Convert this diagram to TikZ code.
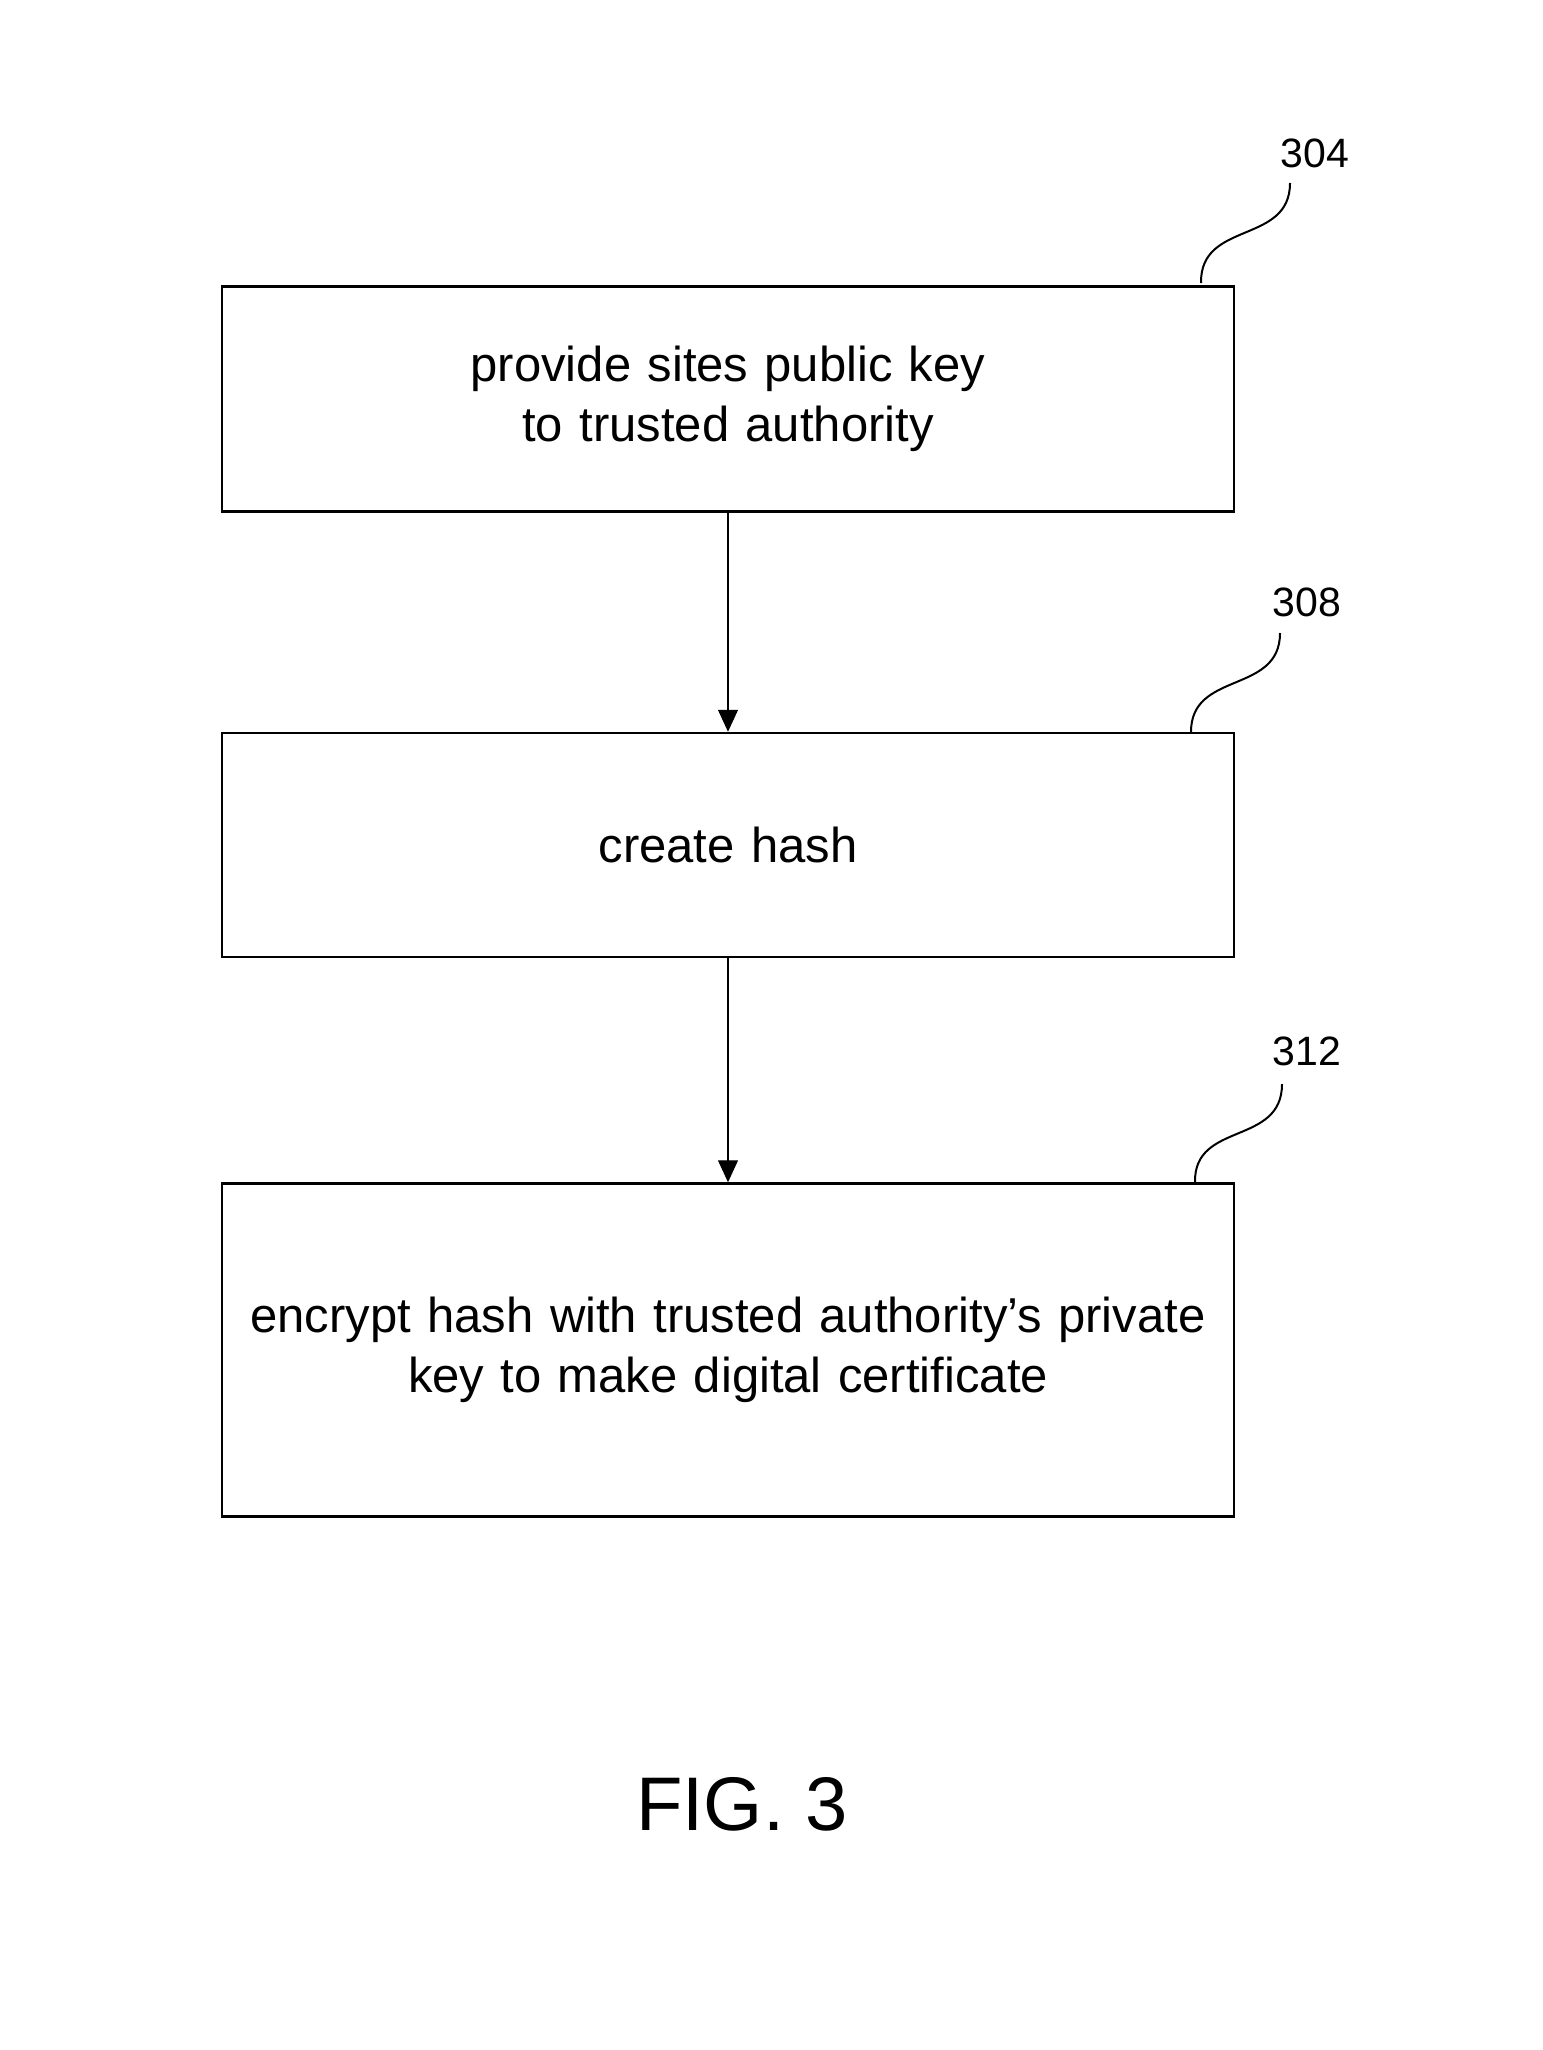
\documentclass[tikz,border=0pt]{standalone}
\usepackage{fontspec}
\setmainfont{Liberation Sans}
\usetikzlibrary{arrows.meta, positioning}

\begin{document}
\begin{tikzpicture}[
    x=1pt, y=-1pt,
    block/.style={
        rectangle,
        draw,
        line width=2.5pt,
        minimum width=1012pt,
        text width=1000pt,
        align=center,
        font=\fontsize{49}{60}\selectfont,
        inner sep=0pt
    },
    line/.style={-{Triangle[length=22pt,width=20pt]}, line width=1.2pt},
    ref/.style={font=\fontsize{41}{48}\selectfont},
    squig/.style={line width=2pt}
]
    \useasboundingbox (0,0) rectangle (1542,2050);

    \node[block, minimum height=225pt] (provide) at (728,399) {provide sites public key\\to trusted authority};
    \node[block, minimum height=224pt] (hash) at (728,845) {create hash};
    \node[block, minimum height=333pt] (encrypt) at (728,1350) {encrypt hash with trusted authority’s private\\key to make digital certificate};

    % arrows between blocks
    \draw[line] (provide.south) -- (hash.north);
    \draw[line] (hash.south) -- (encrypt.north);

    % reference numerals
    \node[ref] (n304) at (1315,153) {304};
    \node[ref] (n308) at (1307,602) {308};
    \node[ref] (n312) at (1307,1051) {312};
    \coordinate (t304) at (1201,283);
    \coordinate (t308) at (1191,733);
    \coordinate (t312) at (1195,1182);
    \draw[squig] (1290,183) .. controls (1290,245) and (1200,220) .. (t304);
    \draw[squig] (1280,633) .. controls (1280,695) and (1190,670) .. (t308);
    \draw[squig] (1282,1084) .. controls (1282,1146) and (1194,1121) .. (t312);

    \node[font=\fontsize{76}{90}\selectfont] (fig) at (742,1804) {FIG. 3};
\end{tikzpicture}
\end{document}
